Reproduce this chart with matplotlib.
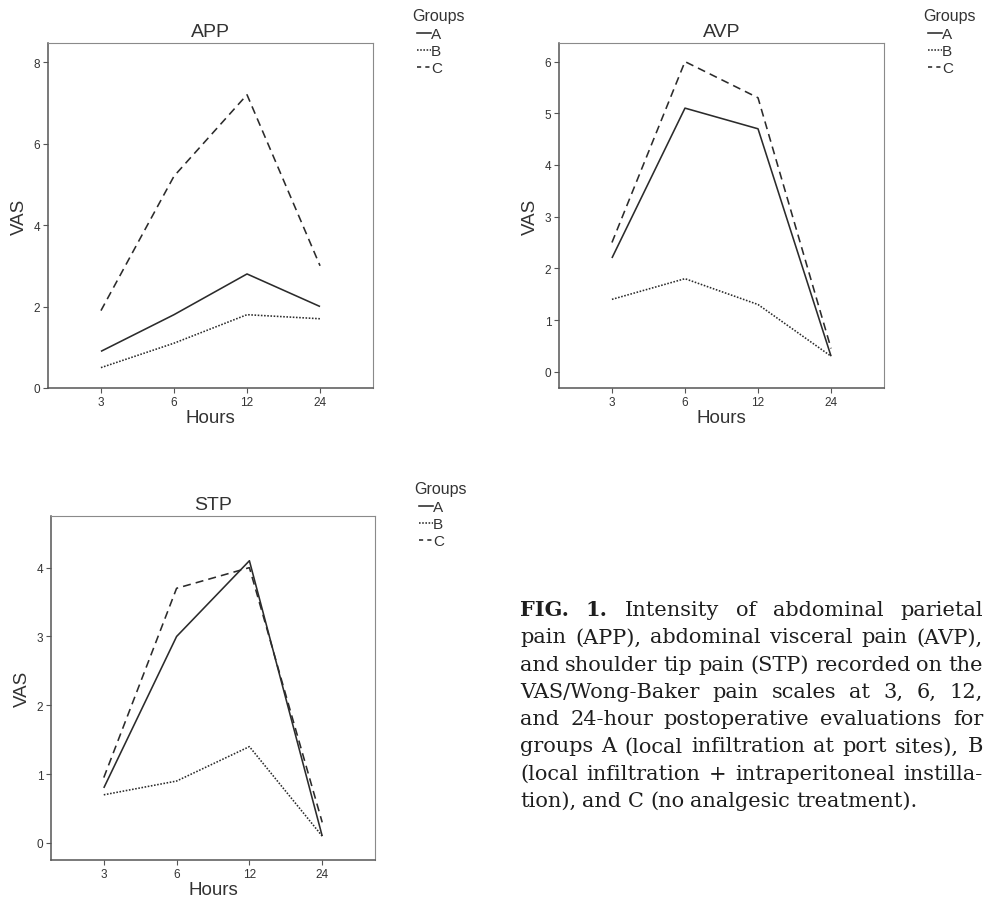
import matplotlib
matplotlib.use('Agg')
import matplotlib.pyplot as plt
from matplotlib.lines import Line2D

# ---------------- data ----------------
hours = ['3', '6', '12', '24']
groups = ['A', 'B', 'C']
app_A = [0.9, 1.8, 2.8, 2.0]
app_B = [0.5, 1.1, 1.8, 1.7]
app_C = [1.9, 5.2, 7.2, 3.0]
avp_A = [2.2, 5.1, 4.7, 0.3]
avp_B = [1.4, 1.8, 1.3, 0.3]
avp_C = [2.5, 6.0, 5.3, 0.45]
stp_A = [0.8, 3.0, 4.1, 0.1]
stp_B = [0.7, 0.9, 1.4, 0.1]
stp_C = [0.95, 3.7, 4.0, 0.3]
titles = ['APP', 'AVP', 'STP']
yticks_list = [[0, 2, 4, 6, 8], [0, 1, 2, 3, 4, 5, 6], [0, 1, 2, 3, 4]]
caption_lines = [
    "FIG. 1. Intensity of abdominal parietal",
    "pain (APP), abdominal visceral pain (AVP),",
    "and shoulder tip pain (STP) recorded on the",
    "VAS/Wong-Baker pain scales at 3, 6, 12,",
    "and 24-hour postoperative evaluations for",
    "groups A (local infiltration at port sites), B",
    "(local infiltration + intraperitoneal instilla-",
    "tion), and C (no analgesic treatment).",
]

series = [[app_A, app_B, app_C], [avp_A, avp_B, avp_C], [stp_A, stp_B, stp_C]]

# ---------------- layout ----------------
W, H = 984, 904
fig = plt.figure(figsize=(W / 100, H / 100), dpi=100)
fig.patch.set_facecolor('white')

def fx(x):
    return x / W

def fy(y):
    return 1 - y / H

# axes boxes in pixels: left, top, right, bottom
boxes = [(48, 44, 373, 389), (559, 44, 884, 389), (51, 517, 375, 861)]
ylims = [(0, 8.47), (-0.315, 6.36), (-0.247, 4.75)]

LINE = '#2b2b2b'
SPINE = '#555555'
SANS = ['Liberation Sans', 'DejaVu Sans']

styles = [dict(linestyle='-'), dict(linestyle=(0, (1.0, 1.0))), dict(linestyle=(0, (5.0, 3.2)))]
leg_styles = [dict(linestyle='-'), dict(linestyle=(0, (1.0, 1.0))), dict(linestyle=(0, (2.6, 2.6)))]
LW = 1.15

for i, (l, t, r, b) in enumerate(boxes):
    ax = fig.add_axes([fx(l), fy(b), (r - l) / W, (b - t) / H])
    x = list(range(len(hours)))
    for g, st in zip(series[i], styles):
        ax.plot(x, g, color=LINE, lw=LW, solid_capstyle='butt', dash_capstyle='butt', **st)
    ax.set_xlim(-0.725, len(hours) - 1 + 0.725)
    ax.set_ylim(*ylims[i])
    ax.set_xticks(x)
    ax.set_xticklabels(hours, family=SANS, fontsize=8.5, color='#333333')
    ax.set_yticks(yticks_list[i])
    ax.set_yticklabels([str(v) for v in yticks_list[i]], family=SANS, fontsize=8.5, color='#333333')
    ax.tick_params(direction='out', length=3.5, width=0.8, color=SPINE, pad=2)
    for s in ['left', 'bottom']:
        ax.spines[s].set_color(SPINE)
        ax.spines[s].set_linewidth(1.1)
    for s in ['top', 'right']:
        ax.spines[s].set_color('#8a8a8a')
        ax.spines[s].set_linewidth(0.8)
    ax.set_xlabel('Hours', family=SANS, fontsize=13.5, color='#333333', labelpad=1)
    ax.set_ylabel('VAS', family=SANS, fontsize=13.5, color='#333333', labelpad=4)
    ax.set_title(titles[i], family=SANS, fontsize=14, color='#333333', pad=5)

    # legend ("Groups") drawn at figure level
    gx = r + 39
    gy = t - 27
    fig.text(fx(gx), fy(gy), 'Groups', family=SANS, fontsize=11.5, color='#333333',
             ha='left', va='center')
    for k, (name, st) in enumerate(zip(groups, leg_styles)):
        yy = t - 9 + k * 17
        fig.add_artist(Line2D([fx(gx + 5), fx(gx + 19)], [fy(yy - 1), fy(yy - 1)],
                              color=LINE, lw=LW, dash_capstyle='butt', **st))
        fig.text(fx(gx + 19), fy(yy), name, family=SANS, fontsize=11, color='#333333',
                 ha='left', va='center')

# ---------------- caption (justified) ----------------
SERIF = ['DejaVu Serif', 'Liberation Serif']
cap_left, cap_right = 520, 983
base0, step = 616, 27.3
renderer = fig.canvas.get_renderer()


def build(fs):
    objs = []
    for li, line in enumerate(caption_lines):
        words = line.split(' ')
        texts = []
        for wi, w in enumerate(words):
            bold = li == 0 and wi < 2
            txt = fig.text(0, fy(base0 + li * step), w, family=SERIF, fontsize=fs,
                           fontweight='bold' if bold else 'normal', color='#1e1e1e',
                           ha='left', va='baseline')
            texts.append(txt)
        objs.append(texts)
    return objs


fs = 15.0
while True:
    objs = build(fs)
    ok = True
    for li, texts in enumerate(objs[:-1]):
        widths = [tx.get_window_extent(renderer).width for tx in texts]
        if sum(widths) + (len(texts) - 1) * fs * 1.389 * 0.24 > cap_right - cap_left:
            ok = False
    if ok or fs < 9:
        break
    for texts in objs:
        for tx in texts:
            tx.remove()
    fs -= 0.1

for li, texts in enumerate(objs):
    widths = [tx.get_window_extent(renderer).width for tx in texts]
    last = li == len(objs) - 1
    if last:
        gap = fs * 1.389 * 0.3
    else:
        gap = (cap_right - cap_left - sum(widths)) / (len(texts) - 1)
    xcur = cap_left
    for tx, wd in zip(texts, widths):
        tx.set_x(fx(xcur))
        xcur += wd + gap

fig.savefig('out.png', dpi=100, facecolor='white')
